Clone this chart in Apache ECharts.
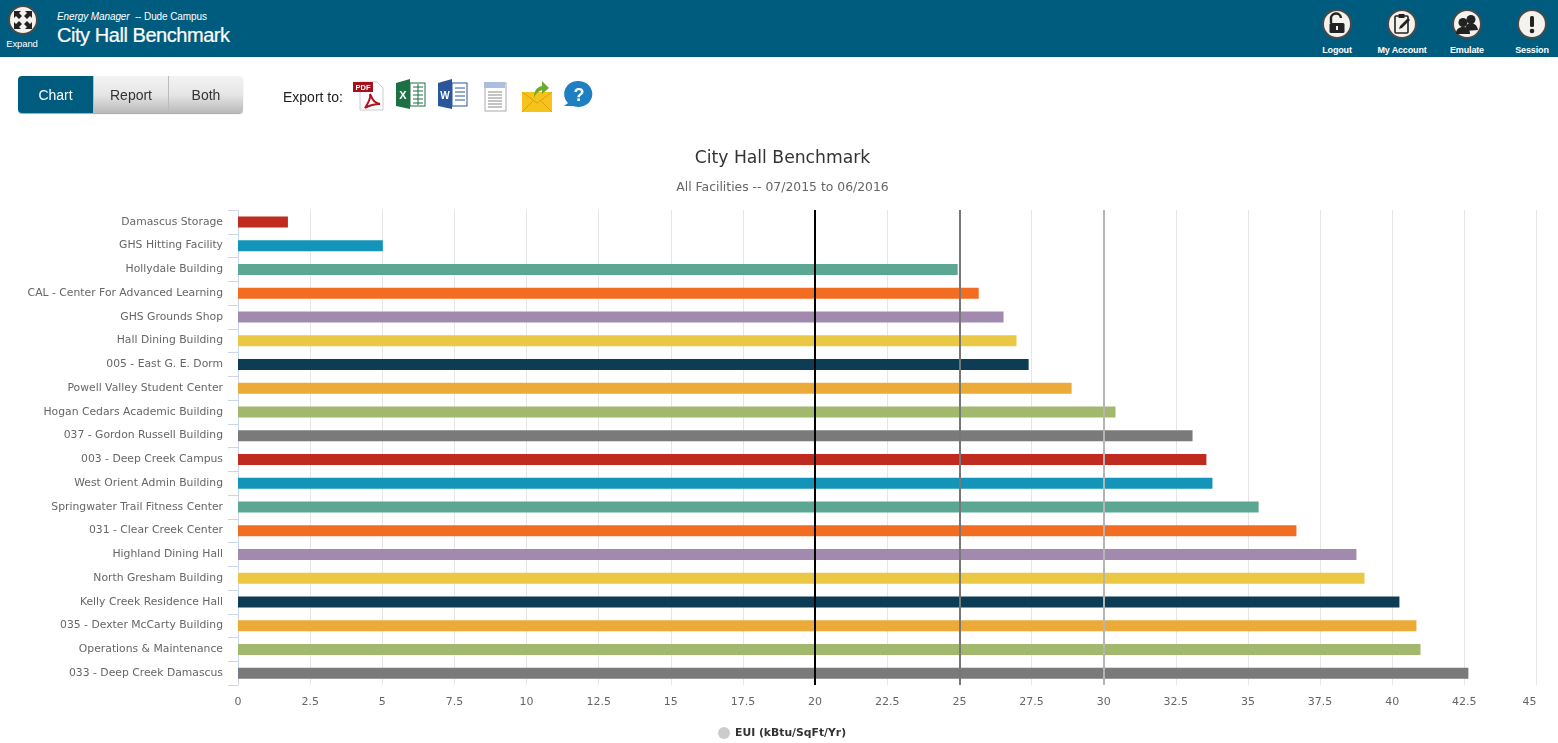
<!DOCTYPE html>
<html><head><meta charset="utf-8">
<style>
html,body{margin:0;padding:0;background:#fff;overflow:hidden;width:1558px;height:743px;font-family:"Liberation Sans",Arial,sans-serif}
#chart{position:absolute;left:0;top:0;width:1558px;height:743px}
#bar{position:absolute;left:0;top:0;width:1558px;height:57px;background:#005c7f;color:#fff}
.abs{position:absolute;white-space:nowrap}
.ico{position:absolute;width:30px;height:30px;top:9px;border-radius:50%;background:#f4f2ee;border:2px solid #4a4a4a;box-sizing:border-box}
.ico svg{position:absolute;left:0;top:0;width:26px;height:26px}
.lab{position:absolute;font-size:9px;font-weight:bold;color:#fff;top:45px;transform:translateX(-50%);white-space:nowrap;letter-spacing:-.15px}
#seg{position:absolute;left:18px;top:76px;height:37px;width:225px;border-radius:4px;box-shadow:0 1px 1px rgba(0,0,0,.35);display:flex;font-size:14px;line-height:38px;text-align:center;color:#333}
#seg div{box-sizing:border-box;height:37px;background:linear-gradient(#f3f3f3,#e6e6e6 50%,#b9b9b9);border-left:1px solid #bbb}
#seg .on{background:#005c7f;color:#fff;border:0;width:75px;border-radius:4px 0 0 4px}
.e{position:absolute}
</style></head><body>
<div id="chart"></div>
<div id="bar">
  <div class="ico" style="left:8px;top:5px"><svg viewBox="0 0 26 26"><path d="M4 4h7l-2 2 3 3-3 3-3-3-2 2zM22 4v7l-2-2-3 3-3-3 3-3-2-2zM4 22v-7l2 2 3-3 3 3-3 3 2 2zM22 22h-7l2-2-3-3 3-3 3 3 2-2z" fill="#222"/></svg></div>
  <div class="lab" style="left:22px;top:38px;font-weight:normal;font-size:9.5px">Expand</div>
  <div class="abs" style="left:57px;top:11px;font-size:10px;letter-spacing:-.1px"><i>Energy Manager</i> &nbsp;-- Dude Campus</div>
  <div class="abs" style="left:57px;top:24px;font-size:20px;letter-spacing:-.45px;-webkit-text-stroke:.2px #fff">City Hall Benchmark</div>
  <div class="ico" style="left:1322px"><svg viewBox="0 0 26 26"><path d="M7 12V8a5 5 0 0 1 10-1" fill="none" stroke="#222" stroke-width="2.4"/><rect x="5.5" y="12" width="15" height="10" rx="1.5" fill="#222"/><rect x="12" y="15" width="2" height="4" fill="#f4f2ee"/></svg></div>
  <div class="lab" style="left:1337px">Logout</div>
  <div class="ico" style="left:1387px"><svg viewBox="0 0 26 26"><rect x="6" y="5" width="13" height="17" rx="1" fill="none" stroke="#222" stroke-width="1.6"/><rect x="9.5" y="3" width="6" height="4" fill="#222"/><path d="M10 18l1-3 8-8 2 2-8 8z" fill="#222"/></svg></div>
  <div class="lab" style="left:1402px">My Account</div>
  <div class="ico" style="left:1452px"><svg viewBox="0 0 26 26"><circle cx="17" cy="8.5" r="4.5" fill="#222"/><path d="M11 20c0-6 3-8 6-8s6 2 7 7z" fill="#222"/><circle cx="9" cy="11.5" r="4.5" fill="#222"/><path d="M2 23c0-5 3-7 7-7s7 2 7 7z" fill="#222"/></svg></div>
  <div class="lab" style="left:1467px">Emulate</div>
  <div class="ico" style="left:1517px"><svg viewBox="0 0 26 26"><rect x="11" y="5" width="4" height="11" rx="1.5" fill="#222"/><circle cx="13" cy="20" r="2.3" fill="#222"/></svg></div>
  <div class="lab" style="left:1532px">Session</div>
</div>
<div id="seg"><div class="on">Chart</div><div style="width:75px">Report</div><div style="width:75px;border-radius:0 4px 4px 0">Both</div></div>
<div class="abs" style="left:283px;top:89px;font-size:14px;color:#222">Export to:</div>
<svg class="e" style="left:350px;top:78px" width="250" height="36" viewBox="0 0 250 36">
  <path d="M10 4h17l6 6v22H10z" fill="#fff" stroke="#ccc"/><rect x="3" y="4" width="20" height="10" fill="#a5121c"/><text x="13" y="12" font-size="7.5" font-weight="bold" fill="#fff" text-anchor="middle" font-family="Liberation Sans">PDF</text>
  <path d="M15 30c4-6 6-10 5-14 3 7 5 9 10 10-5 0-10 1-15 4z" fill="none" stroke="#b5141e" stroke-width="2"/>
  <path d="M46 5l14-4v30l-14-3z" fill="#1d7044"/><rect x="60" y="5" width="15" height="23" fill="#fff" stroke="#1d7044"/><path d="M63 9h10M63 13h10M63 17h10M63 21h10M63 25h10M68 6v21" stroke="#1d7044"/><text x="53" y="21" font-size="11" font-weight="bold" fill="#fff" text-anchor="middle" font-family="Liberation Sans">X</text>
  <path d="M88 5l14-4v30l-14-3z" fill="#2b579a"/><rect x="102" y="5" width="15" height="23" fill="#fff" stroke="#2b579a"/><path d="M105 10h10M105 14h10M105 18h10M105 22h10" stroke="#2b579a"/><text x="95" y="21" font-size="10" font-weight="bold" fill="#fff" text-anchor="middle" font-family="Liberation Sans">W</text>
  <rect x="135" y="5" width="21" height="28" fill="#fff" stroke="#aaa"/><rect x="134" y="4" width="21" height="6" fill="#a9bfdd"/><path d="M138 14h14M138 17h14M138 20h14M138 23h14M138 26h14M138 29h14" stroke="#888"/>
  <path d="M172 14h30v20h-30z" fill="#f6c21c"/><path d="M172 14l15 11 15-11M172 34l11-11M202 34l-11-11" fill="none" stroke="#dd9f10"/><path d="M184 20c0-8 3-11 8-12V3l7 7-7 6v-4c-3 1-6 3-8 8z" fill="#6cab2e"/>
  <path d="M229 3a14 13 0 1 1-6 25l-9 0 4-3a14 13 0 0 1 11-22z" fill="#1e80c3"/><text x="229" y="23" font-size="18" font-weight="bold" fill="#fff" text-anchor="middle" font-family="Liberation Sans">?</text>
</svg>
<script src="https://cdn.jsdelivr.net/npm/echarts@6/dist/echarts.min.js"></script>
<script>
const categories = ["Damascus Storage","GHS Hitting Facility","Hollydale Building","CAL - Center For Advanced Learning","GHS Grounds Shop","Hall Dining Building","005 - East G. E. Dorm","Powell Valley Student Center","Hogan Cedars Academic Building","037 - Gordon Russell Building","003 - Deep Creek Campus","West Orient Admin Building","Springwater Trail Fitness Center","031 - Clear Creek Center","Highland Dining Hall","North Gresham Building","Kelly Creek Residence Hall","035 - Dexter McCarty Building","Operations & Maintenance","033 - Deep Creek Damascus"];
const values = [1.73,5.02,24.94,25.67,26.53,26.98,27.4,28.89,30.41,33.08,33.56,33.77,35.37,36.68,38.76,39.04,40.25,40.84,40.98,42.64];
const palette = ["#bf2b1e","#1395ba","#5ca793","#f26c21","#a28aaf","#ebc844","#0d3c55","#ecaa38","#a2b86c","#7a7a7a"];
const refLines = [{v:20,c:"#000000"},{v:25,c:"#777777"},{v:30,c:"#b5b5b5"}];
const seriesName = "EUI (kBtu/SqFt/Yr)";
const font = '"DejaVu Sans",Verdana,sans-serif';
const chart = echarts.init(document.getElementById('chart'));
chart.setOption({
  animation:false,
  title:{text:"City Hall Benchmark",subtext:"All Facilities -- 07/2015 to 06/2016",left:777.5,textAlign:'center',top:145,itemGap:15,
    textStyle:{fontFamily:font,fontSize:17.2,fontWeight:'normal',color:'#333'},
    subtextStyle:{fontFamily:font,fontSize:12.4,color:'#666'}},
  legend:{show:true,left:713,top:722,icon:'circle',itemWidth:12,itemHeight:12,selectedMode:false,
    textStyle:{fontFamily:font,fontSize:10.8,fontWeight:'bold',color:'#333'},
    data:[{name:seriesName,itemStyle:{color:'#cccccc'}}]},
  grid:{left:238,right:21.5,top:210,bottom:58,containLabel:false},
  xAxis:{type:'value',min:0,max:45,interval:2.5,
    axisLine:{show:false},axisTick:{show:false},
    axisLabel:{fontFamily:font,fontSize:11,color:'#666',margin:12,alignMaxLabel:'right',formatter:v=>String(v)},
    splitLine:{show:true,lineStyle:{color:'#e6e6e6',width:1}}},
  yAxis:{type:'category',inverse:true,data:categories,
    axisLine:{show:true,lineStyle:{color:'#ccd6eb',width:1}},
    axisTick:{show:true,length:10,lineStyle:{color:'#ccd6eb'}},
    axisLabel:{fontFamily:font,fontSize:10.8,color:'#666',margin:15,padding:[3,0,0,0]},
    splitLine:{show:false}},
  series:[{name:seriesName,type:'bar',barWidth:11,
    data:values.map((v,i)=>({value:v,itemStyle:{color:palette[i%palette.length]}})),
    markLine:{silent:true,symbol:'none',label:{show:false},animation:false,
      data:refLines.map(r=>({xAxis:r.v,lineStyle:{color:r.c,width:2,type:'solid'}}))}}]
});
</script>
</body></html>
